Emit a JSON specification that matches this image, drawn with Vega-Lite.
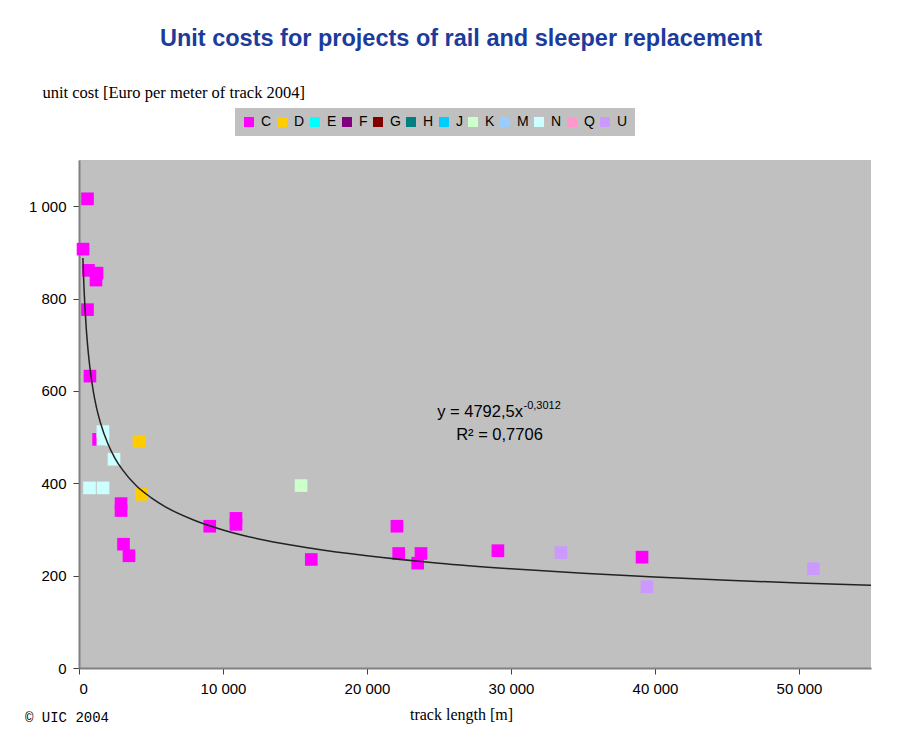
{
  "$schema": "https://vega.github.io/schema/vega-lite/v6.json",
  "autosize": {"type": "none"},
  "width": 792,
  "height": 508,
  "padding": {"left": 79, "top": 160, "right": 31, "bottom": 63},
  "background": "white",
  "title": {
    "text": "Unit costs for projects of rail and sleeper replacement",
    "font": "Liberation Sans",
    "fontSize": 23.5,
    "fontWeight": "bold",
    "color": "#1C3B9B",
    "anchor": "middle",
    "dx": -14,
    "offset": 34
  },
  "config": {
    "view": {"fill": "#C0C0C0", "stroke": null},
    "axis": {
      "labelFont": "Liberation Sans",
      "labelFontSize": 15,
      "labelColor": "#000000",
      "domainColor": "#808080",
      "domainWidth": 2,
      "tickColor": "#404040",
      "tickSize": 6,
      "labelPadding": 7,
      "grid": false,
      "titleFont": "Liberation Serif",
      "titleFontWeight": "normal",
      "titleFontSize": 16,
      "titleColor": "#000000"
    }
  },
  "datasets": {
    "points": [
      {"x": 590, "y": 1016, "series": "C"},
      {"x": 280, "y": 907, "series": "C"},
      {"x": 660, "y": 861, "series": "C"},
      {"x": 1250, "y": 855, "series": "C"},
      {"x": 1180, "y": 840, "series": "C"},
      {"x": 590, "y": 776, "series": "C"},
      {"x": 760, "y": 632, "series": "C"},
      {"x": 1360, "y": 495, "series": "C"},
      {"x": 2920, "y": 356, "series": "C"},
      {"x": 2920, "y": 341, "series": "C"},
      {"x": 3090, "y": 268, "series": "C"},
      {"x": 3470, "y": 243, "series": "C"},
      {"x": 9080, "y": 307, "series": "C"},
      {"x": 10900, "y": 324, "series": "C"},
      {"x": 10900, "y": 311, "series": "C"},
      {"x": 16130, "y": 235, "series": "C"},
      {"x": 22080, "y": 307, "series": "C"},
      {"x": 22200, "y": 248, "series": "C"},
      {"x": 23750, "y": 248, "series": "C"},
      {"x": 23520, "y": 227, "series": "C"},
      {"x": 29090, "y": 254, "series": "C"},
      {"x": 39100, "y": 240, "series": "C"},
      {"x": 4170, "y": 491, "series": "D"},
      {"x": 4340, "y": 376, "series": "D"},
      {"x": 15420, "y": 395, "series": "K"},
      {"x": 1660, "y": 512, "series": "N"},
      {"x": 1660, "y": 495, "series": "N"},
      {"x": 2430, "y": 452, "series": "N"},
      {"x": 730, "y": 390, "series": "N"},
      {"x": 1670, "y": 390, "series": "N"},
      {"x": 33470, "y": 250, "series": "U"},
      {"x": 39440, "y": 176, "series": "U"},
      {"x": 51000, "y": 215, "series": "U"}
    ],
    "trend": [
      {"x": 270, "y": 888},
      {"x": 300, "y": 860},
      {"x": 350, "y": 821},
      {"x": 400, "y": 789},
      {"x": 500, "y": 737},
      {"x": 600, "y": 698},
      {"x": 700, "y": 666},
      {"x": 800, "y": 640},
      {"x": 1000, "y": 598},
      {"x": 1200, "y": 566},
      {"x": 1500, "y": 530},
      {"x": 2000, "y": 486},
      {"x": 2500, "y": 454},
      {"x": 3000, "y": 430},
      {"x": 4000, "y": 394},
      {"x": 5000, "y": 369},
      {"x": 6000, "y": 349},
      {"x": 8000, "y": 320},
      {"x": 10000, "y": 299},
      {"x": 13000, "y": 276},
      {"x": 16000, "y": 260},
      {"x": 20000, "y": 243},
      {"x": 25000, "y": 227},
      {"x": 30000, "y": 215},
      {"x": 35000, "y": 205},
      {"x": 40000, "y": 197},
      {"x": 45000, "y": 190},
      {"x": 50000, "y": 184},
      {"x": 55000, "y": 179}
    ],
    "notes": [
      {"x": 30830, "y": 554, "label": "y = 4792,5x", "kind": "eq"},
      {"x": 30870, "y": 568, "label": "-0,3012", "kind": "exp"},
      {"x": 29200, "y": 504, "label": "R² = 0,7706", "kind": "r2"},
      {"x": -3750, "y": -109, "label": "© UIC 2004", "kind": "foot"}
    ]
  },
  "encoding": {
    "x": {
      "field": "x",
      "type": "quantitative",
      "scale": {"domain": [0, 55000], "nice": false},
      "axis": {
        "values": [0, 10000, 20000, 30000, 40000, 50000],
        "labelExpr": "replace(format(datum.value, ','), ',', ' ')",
        "title": "track length [m]",
        "titleX": 382,
        "titleY": 46,
        "titleBaseline": "middle",
        "titleAlign": "center"
      }
    },
    "y": {
      "field": "y",
      "type": "quantitative",
      "scale": {"domain": [0, 1100], "nice": false},
      "axis": {
        "values": [0, 200, 400, 600, 800, 1000],
        "labelExpr": "replace(format(datum.value, ','), ',', ' ')",
        "title": "unit cost [Euro per meter of track 2004]",
        "titleAngle": 0,
        "titleX": -37,
        "titleY": -68,
        "titleAlign": "left",
        "titleBaseline": "middle",
        "titleFontSize": 16.5
      }
    }
  },
  "layer": [
    {
      "data": {"name": "points"},
      "mark": {"type": "square", "size": 160, "filled": true, "opacity": 1, "strokeWidth": 0},
      "encoding": {
        "color": {
          "field": "series",
          "type": "nominal",
          "scale": {
            "domain": ["C", "D", "E", "F", "G", "H", "J", "K", "M", "N", "Q", "U"],
            "range": ["#FF00FF", "#FFCC00", "#00FFFF", "#800080", "#800000", "#008080", "#00CCFF", "#CCFFCC", "#99CCFF", "#CCFFFF", "#FF99CC", "#CC99FF"]
          },
          "legend": {
            "title": null,
            "orient": "none",
            "direction": "horizontal",
            "legendX": 156,
            "legendY": -52,
            "fillColor": "#C0C0C0",
            "padding": 7,
            "symbolType": "square",
            "symbolSize": 100,
            "symbolStrokeWidth": 0,
            "symbolOpacity": 1,
            "labelFont": "Liberation Sans",
            "labelFontSize": 14,
            "labelColor": "#000000",
            "labelOffset": 5,
            "columnPadding": 3
          }
        }
      }
    },
    {
      "data": {"name": "trend"},
      "mark": {"type": "line", "color": "#222222", "strokeWidth": 1.5, "interpolate": "monotone"},
      "encoding": {}
    },
    {
      "data": {"name": "notes"},
      "transform": [{"filter": "datum.kind === 'eq'"}],
      "mark": {"type": "text", "align": "right", "baseline": "middle", "font": "Liberation Sans", "fontSize": 16.5, "color": "#000000"},
      "encoding": {"text": {"field": "label"}}
    },
    {
      "data": {"name": "notes"},
      "transform": [{"filter": "datum.kind === 'exp'"}],
      "mark": {"type": "text", "align": "left", "baseline": "middle", "font": "Liberation Sans", "fontSize": 11, "color": "#000000"},
      "encoding": {"text": {"field": "label"}}
    },
    {
      "data": {"name": "notes"},
      "transform": [{"filter": "datum.kind === 'r2'"}],
      "mark": {"type": "text", "align": "center", "baseline": "middle", "font": "Liberation Sans", "fontSize": 16.5, "color": "#000000"},
      "encoding": {"text": {"field": "label"}}
    },
    {
      "data": {"name": "notes"},
      "transform": [{"filter": "datum.kind === 'foot'"}],
      "mark": {"type": "text", "align": "left", "baseline": "middle", "font": "Liberation Mono", "fontSize": 14, "color": "#000000"},
      "encoding": {"text": {"field": "label"}}
    }
  ]
}
